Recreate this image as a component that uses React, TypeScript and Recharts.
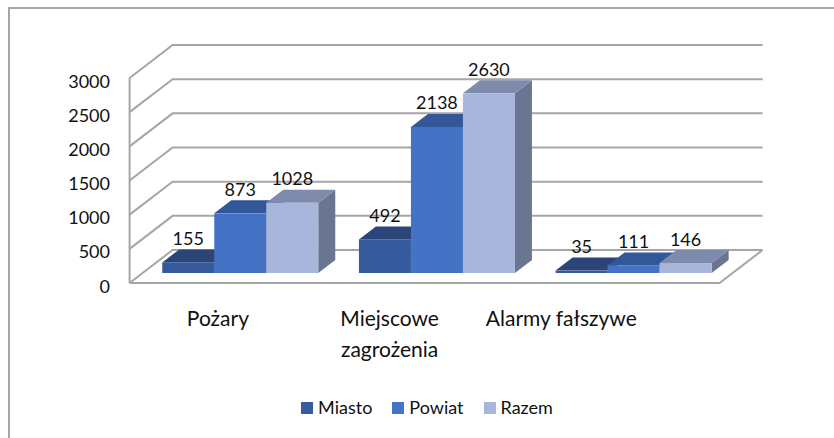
import { BarChart, Bar, XAxis, YAxis, CartesianGrid, Legend, LabelList } from "recharts";

const CATEGORIES = ["Pożary", "Miejscowe zagrożenia", "Alarmy fałszywe"];
const MIASTO = [155, 492, 35];
const POWIAT = [873, 2138, 111];
const RAZEM = [1028, 2630, 146];
const Y_TICKS = [0, 500, 1000, 1500, 2000, 2500, 3000];

const SERIES = [
  { key: "miasto", name: "Miasto", front: "#365b9c", top: "#2b4578", side: "#26406f" },
  { key: "powiat", name: "Powiat", front: "#4472c4", top: "#34579a", side: "#2f4f8c" },
  { key: "razem", name: "Razem", front: "#a8b6db", top: "#7f8bad", side: "#6a7591" },
];

const data = CATEGORIES.map((name, i) => ({
  name,
  miasto: MIASTO[i],
  powiat: POWIAT[i],
  razem: RAZEM[i],
}));

const FONT = "Lato, 'Open Sans', sans-serif";
const TEXT = "#111";
const GRID = "#a6a6a6";

// fake 3d: offsets from the bar plane to the front / back walls, and bar depth
const FRONT = { dx: -13, dy: 10 };
const BACK = { dx: 30, dy: -23 };
const DEPTH = { dx: 17, dy: 13 };

const gridLine = (p: any) => {
  const { x1, x2, y1, y, height, index } = p;
  const fx = x1 + FRONT.dx;
  const fy = y1 + FRONT.dy;
  const by = y1 + BACK.dy;
  const ex = x2 + BACK.dx;
  let d = `M${fx},${fy}L${x1 + BACK.dx},${by}L${ex},${by}`;
  if (Math.abs(y1 - (y + height)) < 0.5) {
    // floor front edge + left wall edge
    d += `M${fx},${fy}L${x2 + FRONT.dx},${fy}L${ex},${by}`;
    d += `M${fx},${y + FRONT.dy}L${fx},${fy}`;
  }
  return <path key={`g${index}`} d={d} stroke={GRID} strokeWidth={2} fill="none" />;
};

const makeShape = (s: (typeof SERIES)[number]) => (p: any) => {
  const { x, y, width, height } = p;
  const r = x + width;
  const b = y + height;
  return (
    <g>
      <path
        d={`M${r},${b}L${r + DEPTH.dx},${b - DEPTH.dy}L${r + DEPTH.dx},${y - DEPTH.dy}L${r},${y}Z`}
        fill={s.side}
      />
      <path
        d={`M${x},${y}L${x + DEPTH.dx},${y - DEPTH.dy}L${r + DEPTH.dx},${y - DEPTH.dy}L${r},${y}Z`}
        fill={s.top}
      />
      <rect x={x} y={y} width={width} height={height} fill={s.front} />
    </g>
  );
};

const valueLabel = (p: any) => (
  <text
    x={p.x + p.width / 2}
    y={p.y - 17.5}
    textAnchor="middle"
    fontFamily={FONT}
    fontSize={18}
    fill={TEXT}
  >
    {p.value}
  </text>
);

const YTick = (p: any) => (
  <text x={p.x - 32.6} y={p.y + 19.5} textAnchor="end" fontFamily={FONT} fontSize={18} fill={TEXT}>
    {p.payload.value}
  </text>
);

const wrap = (s: string) => {
  const lines: string[] = [];
  for (const w of s.split(" ")) {
    const last = lines[lines.length - 1];
    if (last && (last + " " + w).length <= 16) lines[lines.length - 1] = last + " " + w;
    else lines.push(w);
  }
  return lines;
};

const CategoryTick = (p: any) => {
  // excel's perspective pulls the labels towards the left
  const cx = p.x * 0.873 + 7.6;
  const lines = wrap(p.payload.value);
  return (
    <text x={cx} y={p.y + 53} textAnchor="middle" fontFamily={FONT} fontSize={21} fill={TEXT}>
      {lines.map((l, i) => (
        <tspan key={i} x={cx} dy={i ? 31 : 0}>
          {l}
        </tspan>
      ))}
    </text>
  );
};

const legendContent = (p: any) => (
  <div
    style={{
      display: "flex",
      justifyContent: "center",
      gap: 20,
      fontFamily: FONT,
      fontSize: 18,
      lineHeight: "23px",
      color: TEXT,
    }}
  >
    {p.payload.map((e: any) => (
      <span key={e.value} style={{ display: "flex", alignItems: "center" }}>
        <span style={{ width: 12, height: 12, background: e.color, marginRight: 5 }} />
        {e.value}
      </span>
    ))}
  </div>
);

export default function App() {
  return (
    <div style={{ position: "relative", width: 834, height: 438, background: "#fff" }}>
      <style>{"html,body{margin:0;overflow:hidden;background:#fff}"}</style>
      <div
        style={{
          position: "absolute",
          left: 8,
          top: 7,
          right: 0,
          bottom: 0,
          borderLeft: "2px solid #a6a6a6",
          borderTop: "2px solid #a6a6a6",
        }}
      />
      <div style={{ position: "absolute", left: 0, top: 0 }}>
        <BarChart
          width={834}
          height={438}
          data={data}
          margin={{ top: 68, right: 101.4, bottom: 125, left: 82.6 }}
          barCategoryGap="10%"
          barGap={0}
        >
          <CartesianGrid horizontal={gridLine} vertical={false} />
          <XAxis
            dataKey="name"
            height={40}
            axisLine={false}
            tickLine={false}
            tickSize={0}
            tickMargin={0}
            interval={0}
            tick={CategoryTick}
          />
          <YAxis
            domain={[0, 3000]}
            ticks={Y_TICKS}
            width={60}
            axisLine={false}
            tickLine={false}
            tickSize={0}
            tickMargin={0}
            tick={YTick}
          />
          <Legend
            layout="horizontal"
            verticalAlign="middle"
            align="center"
            content={legendContent}
            wrapperStyle={{ left: 20, width: 814, top: 396 }}
          />
          {SERIES.map((s) => (
            <Bar
              key={s.key}
              dataKey={s.key}
              name={s.name}
              fill={s.front}
              shape={makeShape(s)}
              isAnimationActive={false}
            >
              <LabelList dataKey={s.key} content={valueLabel} />
            </Bar>
          ))}
        </BarChart>
      </div>
    </div>
  );
}
